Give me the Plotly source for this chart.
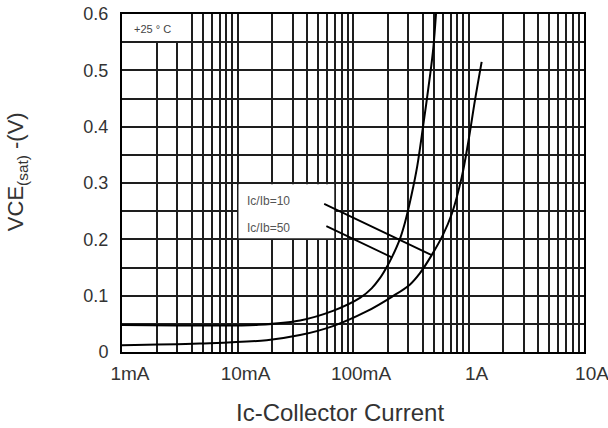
import math
import plotly.graph_objects as go

# Ic/Ib = 50 (left curve)
ic_50 = [0.001, 0.003, 0.0047, 0.01, 0.0146, 0.0348, 0.067, 0.115, 0.145, 0.171, 0.195, 0.217, 0.254, 0.282, 0.322, 0.36, 0.404, 0.464, 0.496, 0.523]
vce_50 = [0.048, 0.047, 0.047, 0.047, 0.048, 0.056, 0.073, 0.096, 0.113, 0.131, 0.150, 0.168, 0.200, 0.230, 0.28, 0.33, 0.40, 0.49, 0.54, 0.60]

# Ic/Ib = 10 (right curve)
ic_10 = [0.001, 0.0047, 0.0179, 0.0348, 0.067, 0.131, 0.217, 0.312, 0.38, 0.48, 0.601, 0.716, 0.873, 0.996, 1.138, 1.30]
vce_10 = [0.012, 0.015, 0.021, 0.030, 0.046, 0.072, 0.098, 0.120, 0.140, 0.172, 0.208, 0.245, 0.310, 0.373, 0.447, 0.515]

decades = [0.001, 0.01, 0.1, 1, 10]
decade_labels = ["1mA", "10mA", "100mA", "1A", "10A"]
y_ticks = [0, 0.1, 0.2, 0.3, 0.4, 0.5, 0.6]

xtickvals, xticktext = [], []
for d, lab in zip(decades, decade_labels):
    xtickvals.append(d)
    xticktext.append(lab)
    if d < 10:
        for m in range(2, 10):
            xtickvals.append(d * m)
            xticktext.append("")

FONT = "Liberation Sans, Arial, sans-serif"
GRID = "#1e1e1e"
fig = go.Figure()
fig.add_trace(go.Scatter(x=ic_50, y=vce_50, mode="lines",
                         line=dict(color="black", width=2, shape="spline", smoothing=1.0),
                         showlegend=False, hoverinfo="skip"))
fig.add_trace(go.Scatter(x=ic_10, y=vce_10, mode="lines",
                         line=dict(color="black", width=2, shape="spline", smoothing=1.0),
                         showlegend=False, hoverinfo="skip"))

# white boxes covering the grid behind the labels
fig.add_shape(type="rect", xref="x", yref="y", x0=0.001, x1=0.0039, y0=0.552, y1=0.6,
              fillcolor="white", line=dict(width=0), layer="between")
fig.add_shape(type="rect", xref="x", yref="y", x0=0.0102, x1=0.0688, y0=0.202, y1=0.298,
              fillcolor="white", line=dict(width=0), layer="between")

fig.add_annotation(x=-2.74, y=0.573, text="+25 ° C", showarrow=False,
                   font=dict(size=11, color="#444", family=FONT))
fig.add_annotation(x=-1.935, y=0.268, text="Ic/Ib=10", showarrow=False, xanchor="left",
                   font=dict(size=12, color="#555", family=FONT))
fig.add_annotation(x=-1.935, y=0.2195, text="Ic/Ib=50", showarrow=False, xanchor="left",
                   font=dict(size=12, color="#555", family=FONT))
# leader lines
i10 = ic_10.index(0.48)
i50 = ic_50.index(0.217)
fig.add_annotation(x=math.log10(ic_10[i10]), y=vce_10[i10], text="", showarrow=True, arrowhead=0,
                   arrowwidth=1.8, arrowcolor="black", ax=-109, ay=-52, standoff=0, startstandoff=0)
fig.add_annotation(x=math.log10(ic_50[i50]), y=vce_50[i50], text="", showarrow=True, arrowhead=0,
                   arrowwidth=1.8, arrowcolor="black", ax=-67, ay=-32, standoff=0, startstandoff=0)

# axis titles
fig.add_annotation(xref="paper", yref="paper", x=0.472, y=-0.18, text="Ic-Collector Current",
                   showarrow=False, xanchor="center", yanchor="middle",
                   font=dict(size=24, color="#333", family=FONT))
fig.add_annotation(xref="paper", yref="paper", x=-0.227, y=0.5325, text="VCE<sub>(sat)</sub> -(V)",
                   showarrow=False, textangle=-90, xanchor="center", yanchor="middle",
                   font=dict(size=22, color="#333", family=FONT))

fig.update_layout(
    width=608, height=428,
    margin=dict(l=122, r=24, t=14, b=76),
    paper_bgcolor="white", plot_bgcolor="white",
    font=dict(family=FONT, color="#333", size=15),
    xaxis=dict(type="log", range=[-3, 1], tickvals=xtickvals, ticktext=xticktext,
               showgrid=True, gridcolor=GRID, gridwidth=1.6, showline=True, linecolor="black",
               linewidth=2, mirror=True, ticks="", ticklabelstandoff=3, ticklabelshift=8,
               ticklabeloverflow="allow", zeroline=False, automargin=False,
               tickfont=dict(size=19, color="#333")),
    yaxis=dict(range=[0, 0.6], tickvals=y_ticks, ticktext=[str(v) if v else "0" for v in y_ticks],
               showgrid=True, gridcolor=GRID, gridwidth=1.6, showline=True, linecolor="black",
               linewidth=2, mirror=True, ticks="", ticklabelstandoff=8, zeroline=False,
               automargin=False,
               minor=dict(dtick=0.05, showgrid=True, gridcolor=GRID, gridwidth=1.6),
               tickfont=dict(size=18, color="#333")),
)
fig.write_html("out.html", post_script="document.body.style.margin='0';",
               config={"displayModeBar": False})
